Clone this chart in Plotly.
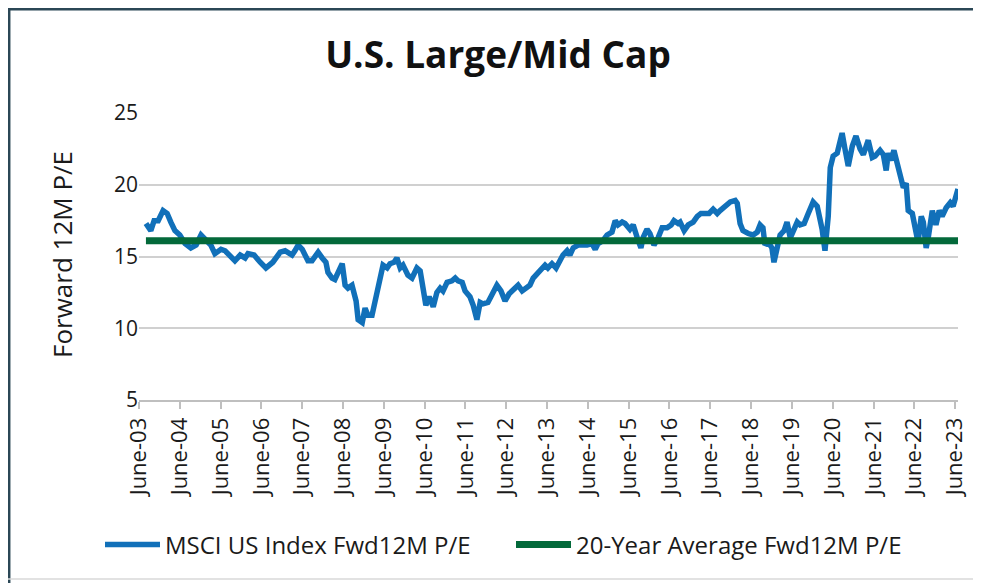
import plotly.graph_objects as go

dates = [
    2003.67, 2003.79, 2003.87, 2003.97, 2004.09, 2004.19, 2004.28, 2004.38, 2004.50, 2004.63,
    2004.77, 2004.90, 2005.02, 2005.14, 2005.26, 2005.36, 2005.51, 2005.61, 2005.73, 2005.85,
    2005.98, 2006.10, 2006.17, 2006.32, 2006.47, 2006.61, 2006.78, 2006.91, 2006.96, 2007.08,
    2007.15, 2007.25, 2007.32, 2007.40, 2007.50, 2007.57, 2007.64, 2007.74, 2007.84, 2007.89,
    2007.99, 2008.08, 2008.13, 2008.23, 2008.30, 2008.40, 2008.48, 2008.55, 2008.62, 2008.72,
    2008.82, 2008.87, 2008.97, 2009.04, 2009.11, 2009.21, 2009.33, 2009.43, 2009.48, 2009.58,
    2009.65, 2009.75, 2009.82, 2009.90, 2009.97, 2010.09, 2010.19, 2010.31, 2010.39, 2010.46,
    2010.53, 2010.61, 2010.71, 2010.80, 2010.88, 2010.95, 2011.05, 2011.17, 2011.25, 2011.32,
    2011.42, 2011.49, 2011.61, 2011.69, 2011.78, 2011.86, 2011.93, 2012.05, 2012.18, 2012.27,
    2012.37, 2012.47, 2012.57, 2012.69, 2012.79, 2012.89, 2013.01, 2013.08, 2013.16, 2013.25,
    2013.38, 2013.45, 2013.52, 2013.62, 2013.72, 2013.79, 2013.89, 2013.99, 2014.06, 2014.14,
    2014.26, 2014.36, 2014.48, 2014.60, 2014.68, 2014.75, 2014.87, 2014.97, 2015.09, 2015.17,
    2015.24, 2015.34, 2015.41, 2015.53, 2015.61, 2015.71, 2015.80, 2015.85, 2015.95, 2016.02,
    2016.12, 2016.22, 2016.32, 2016.44, 2016.54, 2016.61, 2016.71, 2016.76, 2016.86, 2016.96,
    2017.08, 2017.18, 2017.27, 2017.37, 2017.47, 2017.57, 2017.67, 2017.74, 2017.86, 2017.99,
    2018.11, 2018.16, 2018.23, 2018.30, 2018.43, 2018.55, 2018.65, 2018.72, 2018.79, 2018.84,
    2018.92, 2019.01, 2019.06, 2019.14, 2019.21, 2019.31, 2019.38, 2019.46, 2019.55, 2019.63,
    2019.70, 2019.80, 2019.90, 2020.02, 2020.12, 2020.24, 2020.31, 2020.39, 2020.44, 2020.51,
    2020.61, 2020.68, 2020.73, 2020.80, 2020.88, 2020.98, 2021.07, 2021.17, 2021.25, 2021.37,
    2021.47, 2021.54, 2021.66, 2021.74, 2021.81, 2021.86, 2021.93, 2022.00, 2022.10, 2022.18,
    2022.23, 2022.30, 2022.35, 2022.45, 2022.52, 2022.59, 2022.67, 2022.72, 2022.79, 2022.84,
    2022.94, 2023.03, 2023.11, 2023.18, 2023.28, 2023.38, 2023.45, 2023.57,
]

# MSCI US Index forward 12M P/E
msci_pe = [
    17.3, 16.8, 17.5, 17.5, 18.2, 18.0, 17.4, 16.8, 16.5, 15.9,
    15.6, 15.8, 16.5, 16.1, 15.8, 15.2, 15.5, 15.4, 15.1, 14.7,
    15.1, 14.9, 15.2, 15.1, 14.6, 14.2, 14.6, 15.1, 15.3, 15.4,
    15.3, 15.1, 15.4, 15.8, 15.5, 15.1, 14.7, 14.7, 15.2, 15.3,
    14.9, 14.6, 13.9, 13.5, 13.4, 14.0, 14.5, 13.0, 12.8, 13.0,
    11.9, 10.6, 10.4, 11.4, 10.9, 10.9, 12.5, 13.8, 14.4, 14.2,
    14.5, 14.6, 14.9, 14.2, 14.4, 13.7, 13.5, 14.2, 14.0, 12.8,
    11.6, 12.2, 11.5, 12.5, 12.8, 12.6, 13.2, 13.3, 13.5, 13.3,
    13.2, 12.6, 12.2, 11.6, 10.6, 11.8, 11.7, 11.8, 12.5, 13.0,
    12.6, 11.9, 12.4, 12.8, 13.0, 12.6, 12.8, 13.0, 13.5, 13.8,
    14.2, 14.4, 14.2, 14.5, 14.2, 14.6, 15.1, 15.4, 15.1, 15.6,
    15.8, 15.8, 15.8, 15.9, 15.5, 15.9, 16.1, 16.5, 16.7, 17.5,
    17.2, 17.4, 17.3, 16.9, 17.2, 16.3, 15.6, 16.3, 16.9, 16.6,
    15.8, 16.3, 17.0, 17.0, 17.2, 17.5, 17.3, 17.4, 16.8, 17.2,
    17.4, 17.8, 18.0, 18.0, 18.0, 18.3, 18.0, 18.2, 18.5, 18.8,
    18.9, 18.7, 17.3, 16.8, 16.6, 16.5, 16.7, 17.2, 17.0, 15.8,
    16.0, 15.6, 14.6, 15.6, 16.5, 16.8, 17.4, 16.3, 17.0, 17.4,
    17.2, 17.3, 18.0, 18.8, 18.5, 16.9, 15.4, 17.8, 21.2, 22.0,
    22.2, 23.2, 23.6, 22.5, 21.3, 22.7, 23.4, 22.5, 22.1, 23.1,
    21.9, 22.0, 22.4, 22.1, 21.0, 22.2, 21.7, 22.4, 21.1, 20.3,
    19.8, 20.1, 18.2, 18.0, 16.8, 16.0, 17.8, 17.4, 15.6, 16.3,
    18.2, 17.2, 18.2, 17.8, 18.4, 18.75, 18.5, 19.7,
]

avg_pe = 16.1  # 20-year average forward 12M P/E

tick_years = list(range(2003, 2024))
tick_labels = [f"June-{y % 100:02d}" for y in tick_years]
y_ticks = [5, 10, 15, 20, 25]

BLUE = "#1170B9"
GREEN = "#03693A"
FONT = "Open Sans, Noto Sans, sans-serif"

fig = go.Figure()
fig.add_trace(go.Scatter(
    x=dates, y=msci_pe, mode="lines", name="MSCI US Index Fwd12M P/E",
    line=dict(color=BLUE, width=5.5, shape="linear"),
))
fig.add_trace(go.Scatter(
    x=[dates[0], dates[-1]], y=[avg_pe, avg_pe], mode="lines",
    name="20-Year Average Fwd12M P/E",
    line=dict(color=GREEN, width=7),
))

# page body has an 8px margin, so the figure is 8px smaller than the window
W, H = 973, 575
L, R, T, B = 131, 23, 105, 183
PW, PH = W - L - R, H - T - B


def px(x):
    return (x - L) / PW


def py(y):
    return (H - B - y) / PH


fig.update_layout(
    width=W, height=H,
    margin=dict(l=L, r=R, t=T, b=B),
    paper_bgcolor="white", plot_bgcolor="white",
    font=dict(family=FONT, color="#1a1a1a"),
    title=dict(
        text="<b>U.S. Large/Mid Cap</b>",
        x=490 / W, xref="container", xanchor="center",
        y=1 - 47 / H, yref="container", yanchor="middle",
        font=dict(family=FONT, size=37, color="#111111"),
    ),
    showlegend=True,
    legend=dict(
        orientation="h", x=px(92), xanchor="left",
        y=py(537), yanchor="middle",
        font=dict(family=FONT, size=24, color="#1a1a1a"),
        bgcolor="rgba(0,0,0,0)", entrywidth=341, entrywidthmode="pixels",
        itemwidth=55,
    ),
    xaxis=dict(
        range=[2003.5, 2023.57],
        tickmode="array", tickvals=[y + 0.5 for y in tick_years], ticktext=tick_labels,
        tickangle=-90, tickfont=dict(family=FONT, size=22, color="#1a1a1a"),
        showgrid=False, zeroline=False,
        showline=True, linecolor="#BFBFBF", linewidth=2,
        ticks="outside", ticklen=7, tickcolor="#BFBFBF", tickwidth=2,
    ),
    yaxis=dict(
        range=[5, 25], tickvals=y_ticks,
        tickfont=dict(family=FONT, size=21, color="#1a1a1a"),
        showgrid=True, gridcolor="#D0D0D0", gridwidth=2,
        zeroline=False, showline=False, ticks="",
    ),
    annotations=[
        dict(text="Forward 12M P/E", xref="paper", yref="paper",
             x=px(54), y=py(247), xanchor="center", yanchor="middle",
             textangle=-90, showarrow=False,
             font=dict(family=FONT, size=26, color="#1a1a1a")),
    ],
    shapes=[
        dict(type="line", xref="paper", yref="paper",
             x0=px(0), x1=px(W), y0=py(1.2), y1=py(1.2),
             line=dict(color="#2B4756", width=2.5)),
        dict(type="line", xref="paper", yref="paper",
             x0=px(1.2), x1=px(1.2), y0=py(0), y1=py(H),
             line=dict(color="#2B4756", width=2.5)),
        dict(type="line", xref="paper", yref="paper",
             x0=px(0), x1=px(W), y0=py(571), y1=py(571),
             line=dict(color="#D9D9D9", width=1.5)),
    ],
)

fig.write_html("out.html")
